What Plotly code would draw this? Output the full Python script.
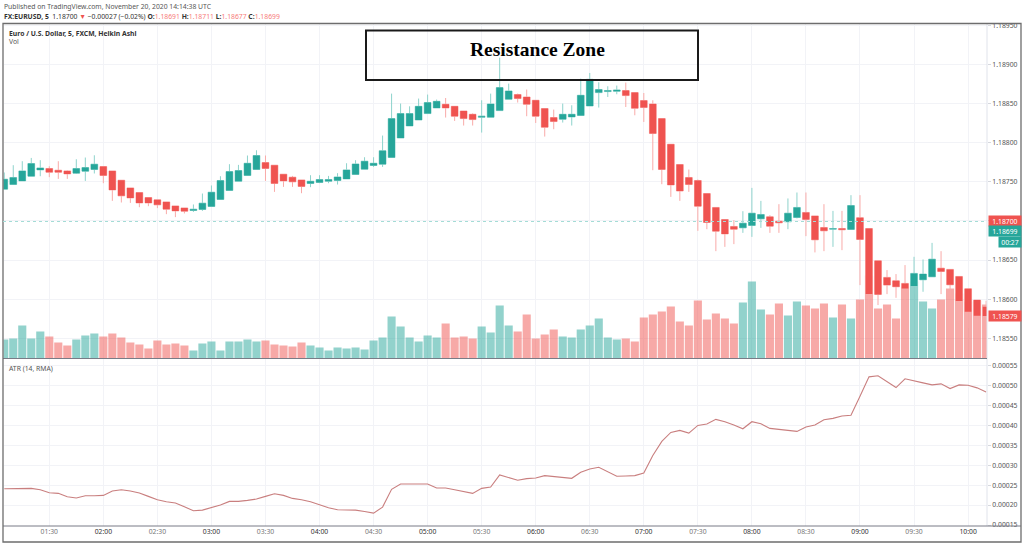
import pandas as pd
import plotly.graph_objects as go
from plotly.subplots import make_subplots

W, H = 1024, 546
TEAL = "#26a69a"
RED = "#ef5350"
GRID = "#f2f3f7"
FONT = "Noto Sans"
SMALL = 6.8

# Heikin Ashi candles, 5 minute bars from 01:05
opens = [
    1.187406, 1.187465, 1.187511, 1.187571, 1.187652, 1.187670, 1.187648, 1.187639, 1.187610, 1.187635,
    1.187657, 1.187695, 1.187639, 1.187520, 1.187422, 1.187363, 1.187299, 1.187269, 1.187243, 1.187192,
    1.187166, 1.187133, 1.187146, 1.187184, 1.187274, 1.187389, 1.187507, 1.187580, 1.187657, 1.187746,
    1.187712, 1.187597, 1.187559, 1.187524, 1.187478, 1.187491, 1.187507, 1.187516, 1.187537, 1.187593,
    1.187661, 1.187708, 1.187725, 1.187810, 1.188060, 1.188214, 1.188290, 1.188372, 1.188444, 1.188491,
    1.188465, 1.188405, 1.188363, 1.188325, 1.188325, 1.188410, 1.188555, 1.188615, 1.188584, 1.188542,
    1.188436, 1.188321, 1.188299, 1.188329, 1.188347, 1.188469, 1.188640, 1.188653, 1.188657, 1.188666,
    1.188640, 1.188538, 1.188495, 1.188308, 1.187980, 1.187721, 1.187555, 1.187516, 1.187350, 1.187172,
    1.187018, 1.186929, 1.186911, 1.186942, 1.187026, 1.187052, 1.186997, 1.186988, 1.187044, 1.187108,
    1.187064, 1.186916, 1.186894, 1.186903, 1.186891, 1.187041, 1.186903, 1.186490, 1.186278, 1.186234,
    1.186201, 1.186167, 1.186247, 1.186285, 1.186396, 1.186380, 1.186290, 1.186132, 1.185988, 1.185902,
]
highs = [
    1.187619, 1.187712, 1.187763, 1.187805, 1.187776, 1.187699, 1.187763, 1.187648, 1.187788, 1.187810,
    1.187839, 1.187699, 1.187639, 1.187520, 1.187422, 1.187363, 1.187299, 1.187269, 1.187243, 1.187192,
    1.187166, 1.187210, 1.187350, 1.187453, 1.187571, 1.187725, 1.187716, 1.187836, 1.187903, 1.187836,
    1.187712, 1.187597, 1.187575, 1.187524, 1.187584, 1.187584, 1.187575, 1.187610, 1.187737, 1.187776,
    1.187814, 1.187814, 1.188091, 1.188627, 1.188500, 1.188465, 1.188564, 1.188615, 1.188551, 1.188571,
    1.188465, 1.188405, 1.188375, 1.188542, 1.188627, 1.189087, 1.188755, 1.188627, 1.188679, 1.188542,
    1.188436, 1.188423, 1.188500, 1.188478, 1.188819, 1.188891, 1.188772, 1.188721, 1.188730, 1.188768,
    1.188640, 1.188635, 1.188542, 1.188308, 1.187980, 1.187721, 1.187657, 1.187529, 1.187350, 1.187172,
    1.187018, 1.187009, 1.187124, 1.187422, 1.187256, 1.187073, 1.187214, 1.187287, 1.187363, 1.187363,
    1.187064, 1.187214, 1.187128, 1.187128, 1.187329, 1.187329, 1.186903, 1.186490, 1.186371, 1.186320,
    1.186435, 1.186541, 1.186507, 1.186719, 1.186613, 1.186380, 1.186290, 1.186132, 1.185988, 1.185979,
]
lows = [
    1.187406, 1.187465, 1.187510, 1.187571, 1.187571, 1.187559, 1.187537, 1.187537, 1.187601, 1.187511,
    1.187606, 1.187482, 1.187256, 1.187235, 1.187230, 1.187175, 1.187188, 1.187163, 1.187086, 1.187048,
    1.187095, 1.187115, 1.187128, 1.187184, 1.187274, 1.187389, 1.187507, 1.187580, 1.187657, 1.187511,
    1.187371, 1.187435, 1.187435, 1.187354, 1.187431, 1.187482, 1.187482, 1.187465, 1.187537, 1.187593,
    1.187661, 1.187690, 1.187690, 1.187810, 1.188060, 1.188214, 1.188290, 1.188372, 1.188444, 1.188321,
    1.188278, 1.188219, 1.188219, 1.188129, 1.188325, 1.188410, 1.188555, 1.188513, 1.188338, 1.188252,
    1.188078, 1.188172, 1.188257, 1.188219, 1.188347, 1.188469, 1.188449, 1.188584, 1.188619, 1.188456,
    1.188350, 1.188265, 1.187648, 1.187469, 1.187307, 1.187256, 1.187371, 1.186873, 1.186894, 1.186613,
    1.186668, 1.186703, 1.186847, 1.186796, 1.186911, 1.186847, 1.186847, 1.186894, 1.187031, 1.186805,
    1.186597, 1.186613, 1.186668, 1.186626, 1.186891, 1.186179, 1.185774, 1.185924, 1.186064, 1.186017,
    1.185605, 1.186073, 1.186094, 1.186285, 1.186064, 1.186039, 1.185690, 1.185634, 1.185592, 1.185630,
]
closes = [
    1.187533, 1.187555, 1.187639, 1.187733, 1.187677, 1.187622, 1.187622, 1.187601, 1.187670, 1.187682,
    1.187725, 1.187580, 1.187396, 1.187320, 1.187294, 1.187230, 1.187230, 1.187205, 1.187150, 1.187128,
    1.187124, 1.187150, 1.187227, 1.187367, 1.187516, 1.187631, 1.187644, 1.187737, 1.187836, 1.187670,
    1.187478, 1.187511, 1.187499, 1.187440, 1.187507, 1.187529, 1.187529, 1.187562, 1.187652, 1.187728,
    1.187763, 1.187737, 1.187897, 1.188308, 1.188372, 1.188372, 1.188465, 1.188513, 1.188529, 1.188444,
    1.188338, 1.188308, 1.188295, 1.188338, 1.188495, 1.188704, 1.188661, 1.188564, 1.188491, 1.188338,
    1.188197, 1.188270, 1.188363, 1.188363, 1.188606, 1.188810, 1.188679, 1.188666, 1.188673, 1.188602,
    1.188440, 1.188449, 1.188117, 1.187657, 1.187460, 1.187382, 1.187465, 1.187188, 1.186980, 1.186869,
    1.186834, 1.186894, 1.186971, 1.187099, 1.187082, 1.186933, 1.186975, 1.187099, 1.187172, 1.187018,
    1.186758, 1.186873, 1.186903, 1.186886, 1.187197, 1.186763, 1.186064, 1.186060, 1.186179, 1.186158,
    1.186137, 1.186329, 1.186320, 1.186511, 1.186354, 1.186183, 1.185975, 1.185838, 1.185787, 1.185783,
]

# volume, arbitrary units (scale not shown on the chart)
volumes = [
    19, 20, 33, 20, 27, 22, 16, 13, 19, 23, 25, 22, 25, 21, 16, 14, 10, 18, 14, 15,
    13, 8, 15, 17, 8, 17, 17, 19, 17, 18, 14, 13, 12, 16, 13, 11, 8, 11, 10, 11,
    9, 18, 21, 42, 32, 21, 17, 23, 21, 35, 21, 22, 20, 32, 26, 53, 33, 27, 44, 20,
    24, 29, 22, 21, 29, 33, 40, 21, 19, 20, 17, 41, 44, 47, 52, 37, 33, 58, 39, 45,
    40, 35, 56, 77, 49, 44, 55, 43, 57, 53, 50, 55, 41, 54, 40, 59, 83, 50, 54, 40,
    72, 77, 57, 50, 59, 70, 65, 57, 58, 54,
]

atr = [
    24.12, 24.21, 24.29, 24.21, 23.87, 23.11, 22.95, 22.10, 21.77, 22.36,
    22.36, 22.44, 23.53, 23.87, 23.53, 23.03, 22.19, 21.35, 20.84, 20.51,
    19.58, 18.57, 18.74, 19.33, 20.00, 20.93, 20.93, 21.18, 21.52, 22.19,
    22.86, 22.44, 21.68, 21.35, 20.84, 20.08, 19.33, 18.82, 18.82, 18.74,
    18.40, 17.98, 19.50, 23.96, 25.30, 25.30, 25.47, 25.30, 24.29, 24.29,
    23.87, 23.45, 22.95, 24.21, 24.54, 27.57, 26.90, 26.23, 26.65, 26.82,
    27.40, 27.24, 27.07, 26.73, 28.25, 29.09, 29.51, 28.41, 27.24, 27.32,
    27.40, 28.08, 32.45, 35.99, 38.26, 38.76, 38.09, 40.02, 40.36, 41.54,
    40.95, 40.11, 39.18, 40.95, 40.45, 39.27, 39.01, 38.85, 38.51, 39.60,
    40.11, 41.46, 41.79, 42.38, 42.55, 47.34, 52.22, 52.48, 50.96, 49.53,
    51.72, 51.30, 50.71, 50.20, 50.46, 49.28, 50.20, 50.12, 49.45, 48.44,
]
atr = [v / 100000 for v in atr]

times = pd.date_range("2020-11-20 01:05", periods=len(opens), freq="5min")

time_ticks = ["01:30", "02:00", "02:30", "03:00", "03:30", "04:00", "04:30", "05:00", "05:30",
              "06:00", "06:30", "07:00", "07:30", "08:00", "08:30", "09:00", "09:30", "10:00"]
tick_dates = [f"2020-11-20 {t}" for t in time_ticks]
tick_text = [f'<span style="color:{"#333" if t.endswith("00") else "#777"}">{t}</span>' for t in time_ticks]
x_range = ["2020-11-20 01:04:35", "2020-11-20 10:10:30"]
price_range = [1.185241, 1.189517]
atr_range = [0.0001475, 0.000567]


def px(x):
    return x / W


def py(y):
    return 1 - y / H


def label(text, x, y, size=SMALL, color="#555", **kw):
    fig.add_annotation(text=text, x=px(x), y=py(y), xref="paper", yref="paper", showarrow=False,
                       xanchor=kw.pop("xanchor", "left"), yanchor="middle", borderpad=0,
                       font=dict(family=kw.pop("family", FONT), size=size, color=color), **kw)


def pill(text, y, x0, x1, color):
    fig.add_annotation(text=text, x=px(x0), y=py(y), xref="paper", yref="paper", showarrow=False,
                       xanchor="left", yanchor="middle", width=x1 - x0, height=10, bgcolor=color,
                       borderpad=0, align="center", font=dict(family=FONT, size=SMALL, color="white"))


fig = make_subplots(rows=2, cols=1, specs=[[{"secondary_y": True}], [{}]])

# volume sits on the base axis so the candles are drawn on top of it
vol_colors = ["rgba(38,166,154,0.5)" if c >= o else "rgba(239,83,80,0.5)" for o, c in zip(opens, closes)]
fig.add_trace(go.Bar(x=times, y=volumes, width=270000, marker=dict(color=vol_colors, line_width=0)),
              row=1, col=1, secondary_y=False)

# pale wick and outline first, solid body second
fig.add_trace(go.Candlestick(x=times, open=opens, high=highs, low=lows, close=closes, whiskerwidth=0,
                             increasing=dict(line=dict(color="#8ed3cc", width=1), fillcolor="#8ed3cc"),
                             decreasing=dict(line=dict(color="#f9aaa8", width=1), fillcolor="#f9aaa8")),
              row=1, col=1, secondary_y=True)
fig.add_trace(go.Candlestick(x=times, open=opens, close=closes,
                             high=[max(o, c) for o, c in zip(opens, closes)],
                             low=[min(o, c) for o, c in zip(opens, closes)],
                             increasing=dict(line=dict(color=TEAL, width=0), fillcolor=TEAL),
                             decreasing=dict(line=dict(color=RED, width=0), fillcolor=RED)),
              row=1, col=1, secondary_y=True)

fig.add_trace(go.Scatter(x=times, y=atr, mode="lines", line=dict(color="#c97f7f", width=1.1)), row=2, col=1)

fig.update_layout(width=W, height=H, margin=dict(l=0, r=0, t=0, b=0, autoexpand=False), showlegend=False,
                  paper_bgcolor="white", plot_bgcolor="white", boxgap=0.25, boxgroupgap=0, hovermode=False,
                  font=dict(family=FONT, size=SMALL, color="#555"))

fig.update_xaxes(range=x_range, domain=[px(3.5), px(987)], tickvals=tick_dates, showgrid=True, gridcolor=GRID,
                 gridwidth=1, zeroline=False, showline=False, ticks="", rangeslider_visible=False)
fig.update_xaxes(showticklabels=False, row=1, col=1)
fig.update_xaxes(showticklabels=True, ticktext=tick_text, tickfont=dict(size=SMALL), tickangle=0, row=2, col=1)

fig.update_yaxes(range=[0, 334.5], domain=[py(358.5), py(24)], visible=False, showgrid=False,
                 row=1, col=1, secondary_y=False)
fig.update_yaxes(range=price_range, domain=[py(358.5), py(24)], side="right", dtick=0.0005, tick0=1.185,
                 tickformat=".5f", showgrid=True, gridcolor=GRID, zeroline=False, showline=False,
                 ticks="outside", ticklen=3, tickcolor="#d6d8de", tickfont=dict(size=SMALL, color="#555"),
                 row=1, col=1, secondary_y=True)
fig.update_yaxes(range=atr_range, domain=[py(526), py(359)], side="right", dtick=0.00005, tick0=0.00015,
                 tickformat=".5f", showgrid=True, gridcolor=GRID, zeroline=False, showline=False,
                 ticks="outside", ticklen=3, tickcolor="#d6d8de", tickfont=dict(size=SMALL, color="#555"),
                 row=2, col=1)

frame = dict(xref="paper", yref="paper", type="line")
# cover the axis labels that run past the pane edges
for y0, y1 in [(0, 23.5), (527, 541.5)]:
    fig.add_shape(type="rect", xref="paper", yref="paper", x0=px(988), x1=px(1020), y0=py(y0), y1=py(y1),
                  fillcolor="white", line_width=0, layer="above")
fig.add_shape(x0=px(987), x1=px(987), y0=py(24), y1=py(526), line=dict(color="#e0e3eb", width=1), **frame)
fig.add_shape(x0=px(3), x1=px(987), y0=py(358.5), y1=py(358.5), line=dict(color="#787b86", width=1.2), **frame)
fig.add_shape(x0=px(3), x1=px(1021), y0=py(526), y1=py(526), line=dict(color="#787b86", width=1), **frame)
fig.add_shape(type="rect", xref="paper", yref="paper", x0=px(3), x1=px(1021), y0=py(23.5), y1=py(542),
              line=dict(color="#6d6d6d", width=1.3))

# last price line
fig.add_shape(x0=px(3), x1=px(987), y0=py(221.5), y1=py(221.5), line=dict(color="#a4dcd6", width=1, dash="dot"), **frame)

# hand drawn resistance box
fig.add_shape(type="rect", xref="paper", yref="paper", x0=px(366), x1=px(698), y0=py(30.5), y1=py(80),
              line=dict(color="#1a1a1a", width=2), layer="above")
label("<b>Resistance Zone</b>", 537, 49, size=19.5, color="black", family="Liberation Serif", xanchor="center")

label("Published on TradingView.com, November 20, 2020 14:14:38 UTC", 3, 6.5)
val = lambda s: f'<span style="color:#f77c7a">{s}</span>'
label(f'<b>FX:EURUSD, 5</b>  1.18700 <span style="color:{RED}">▼</span> −0.00027 (−0.02%) '
      f'<b>O:</b>{val("1.18691")} <b>H:</b>{val("1.18711")} <b>L:</b>{val("1.18677")} <b>C:</b>{val("1.18699")}',
      3, 16, color="#333")
label("<b>Euro / U.S. Dollar, 5, FXCM, Heikin Ashi</b>", 8, 33, color="#333")
label("Vol", 8, 42)
label("ATR (14, RMA)", 8, 368)

pill("1.18700", 220.5, 988, 1020, RED)
pill("1.18699", 230.5, 988, 1020, TEAL)
pill("00:27", 241.5, 998, 1020, TEAL)
pill("1.18579", 316, 988, 1020, RED)

# the browser's default body margin would push the figure off the 1024 wide window
fig.write_html("out.html", config=dict(displayModeBar=False),
               post_script="document.body.style.margin='0';document.documentElement.style.overflow='hidden';"
                           "document.querySelectorAll('.plotly-graph-div').forEach(d=>{d.style.position='fixed';d.style.left='0';d.style.top='0';});")
